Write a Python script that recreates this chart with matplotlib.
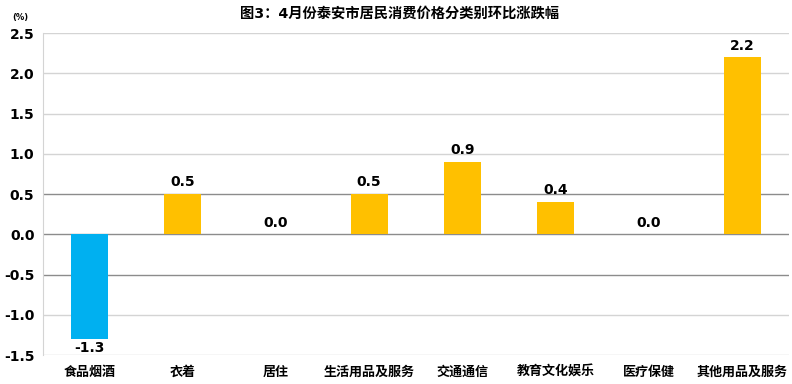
import matplotlib
matplotlib.use('Agg')
from matplotlib import pyplot as plt

plt.rcParams['font.family'] = ['DejaVu Sans', 'Noto Sans CJK SC']

# data
categories = ['食品烟酒', '衣着', '居住', '生活用品及服务', '交通通信', '教育文化娱乐', '医疗保健', '其他用品及服务']
values = [-1.3, 0.5, 0.0, 0.5, 0.9, 0.4, 0.0, 2.2]
yticks = [-1.5, -1.0, -0.5, 0.0, 0.5, 1.0, 1.5, 2.0, 2.5]
title = '图3：4月份泰安市居民消费价格分类别环比涨跌幅'

blue = '#00B0F0'
gold = '#FFC000'

fig = plt.figure(figsize=(7.92, 3.84), dpi=100)
ax = fig.add_axes([0.054, 0.0755, 0.942, 0.838])

x = list(range(len(categories)))
colors = [blue if v < 0 else gold for v in values]
ax.bar(x, values, width=0.4, color=colors, zorder=3)

ax.set_xlim(-0.5, len(categories) - 0.5)
ax.set_ylim(-1.5, 2.5)
ax.set_yticks(yticks)
ax.set_yticklabels([f'{t:.1f}' for t in yticks], fontsize=10, fontweight='bold')

# gridlines, the ones around zero are a bit darker
for t in yticks:
    c = '#8c8c8c' if t in (-0.5, 0.0, 0.5) else '#d4d4d4'
    ax.axhline(t, color=c, linewidth=1, zorder=1)

for s in ['top', 'right', 'bottom']:
    ax.spines[s].set_visible(False)
ax.spines['left'].set_color('#d4d4d4')
ax.tick_params(axis='y', length=0, pad=6)
ax.tick_params(axis='x', length=0, pad=7)
ax.set_xticks(x)
ax.set_xticklabels(categories, fontsize=9.4, fontweight='bold',
                   family=['Noto Sans CJK SC', 'DejaVu Sans'])

for xi, v in zip(x, values):
    if v < 0:
        ax.text(xi, v - 0.02, f'{v:.1f}', ha='center', va='top', fontsize=10, fontweight='bold')
    else:
        ax.text(xi, v + 0.06, f'{v:.1f}', ha='center', va='bottom', fontsize=10, fontweight='bold')

fig.text(0.505, 0.965, title, ha='center', va='center', fontsize=10.3, fontweight='bold',
         family=['DejaVu Sans', 'Noto Sans CJK SC'])
fig.text(0.015, 0.955, '(%)', ha='left', va='center', fontsize=6, fontweight='bold')

fig.savefig('out.png', dpi=100)
